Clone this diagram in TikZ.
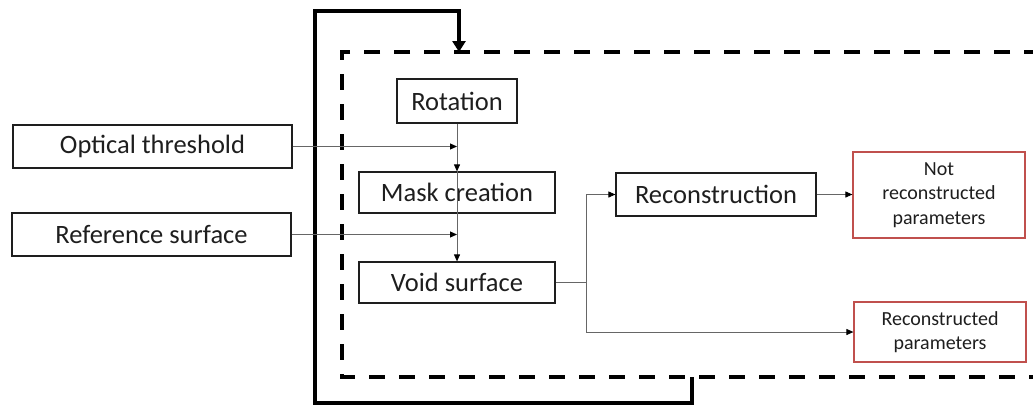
\documentclass[tikz,border=0pt]{standalone}
\usepackage{fontspec}
\setmainfont{Carlito}
\usetikzlibrary{arrows.meta}
\definecolor{boxred}{RGB}{192,80,77}
\definecolor{ink}{RGB}{30,30,30}
\begin{document}
\begin{tikzpicture}[x=1pt,y=-1pt,
  box/.style={draw=ink, line width=1.2pt, inner sep=0pt, text=ink,
    font=\fontsize{26.5}{30}\selectfont},
  outbox/.style={draw=boxred, line width=1.2pt, inner sep=0pt, align=center,
    text=ink, font=\fontsize{20}{24.5}\selectfont},
  link/.style={draw=black!60, line width=0.9pt},
  tip/.style={-{Triangle[length=7pt,width=6pt,color=black]}},
  feedback/.style={line width=3.8pt, line join=miter},
  bigtip/.style={-{Triangle[length=11pt,width=13pt]}},
  frame/.style={line width=4.5pt, dash pattern=on 16pt off 14pt}
]
\useasboundingbox (0,0) rectangle (1033,407);
\clip (0,0) rectangle (1033,407);

% dashed processing frame (continues past the right edge)
\draw[frame] (1040,52) -- (342,52) -- (342,377) -- (1040,377);
\coordinate (frameTop) at (459,52);
\coordinate (frameBot) at (692,377);

% feedback loop around the frame
\draw[feedback, bigtip] (frameBot) -- (692,403) -- (315,403) -- (315,11)
  -- (459,11) -- (frameTop);

% process boxes
\node[box, minimum width=120pt, minimum height=44pt] (rot)  at (457,101)   {Rotation};
\node[box, minimum width=196pt, minimum height=41pt] (mask) at (457,192.5) {Mask creation};
\node[box, minimum width=196pt, minimum height=41pt] (void) at (457,282.5) {Void surface};
\node[box, minimum width=279pt, minimum height=43pt] (opt)  at (152.5,146.5) {Optical threshold};
\node[box, minimum width=279pt, minimum height=43pt] (ref)  at (151.5,234.5) {Reference surface};
\node[box, minimum width=200pt, minimum height=43pt] (rec)  at (716,194.5) {Reconstruction};

% outputs
\node[outbox, minimum width=172pt, minimum height=86pt] (notrec) at (939,195)
  {Not\\reconstructed\\parameters};
\node[outbox, minimum width=172pt, minimum height=60pt] (recpar) at (940,332)
  {Reconstructed\\parameters};

% connectors
\draw[link, tip] (rot.south) -- (mask.north);
\draw[link, tip] (mask.north) -- (void.north);
\draw[link, tip] (opt.east) -- (opt.east -| rot.south);
\draw[link, tip] (ref.east) -- (ref.east -| rot.south);
\coordinate (split) at (586,282.5);
\draw[link] (void.east) -- (split);
\draw[link, tip] (split) |- (rec.west);
\draw[link, tip] (split) |- (recpar.west);
\draw[link, tip] (rec.east) -- (rec.east -| notrec.west);
\end{tikzpicture}
\end{document}
